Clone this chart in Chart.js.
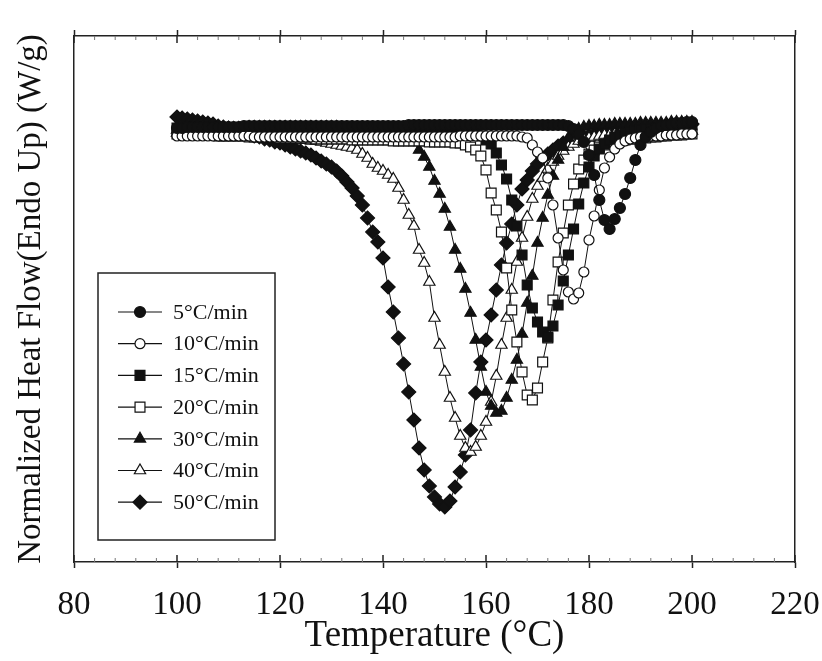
<!DOCTYPE html>
<html>
<head>
<meta charset="utf-8">
<title>DSC heating rates</title>
<script src="https://cdn.jsdelivr.net/npm/chart.js"></script>
<style>
  html, body { margin: 0; padding: 0; background: #fff; }
  #wrap { width: 822px; height: 661px; position: relative; }
</style>
</head>
<body>
<div id="wrap"><canvas id="dscChart"></canvas></div>
<script>
// temperature grid (°C), one reading per degree
const temps = [
  100, 101, 102, 103, 104, 105, 106, 107, 108, 109,
  110, 111, 112, 113, 114, 115, 116, 117, 118, 119,
  120, 121, 122, 123, 124, 125, 126, 127, 128, 129,
  130, 131, 132, 133, 134, 135, 136, 137, 138, 139,
  140, 141, 142, 143, 144, 145, 146, 147, 148, 149,
  150, 151, 152, 153, 154, 155, 156, 157, 158, 159,
  160, 161, 162, 163, 164, 165, 166, 167, 168, 169,
  170, 171, 172, 173, 174, 175, 176, 177, 178, 179,
  180, 181, 182, 183, 184, 185, 186, 187, 188, 189,
  190, 191, 192, 193, 194, 195, 196, 197, 198, 199,
  200
];

// normalized heat flow (W/g)
const rate5 = [
  0.00, 0.00, 0.01, 0.01, 0.01, 0.01, 0.01, 0.01, 0.01, 0.01,
  0.01, 0.01, 0.01, 0.02, 0.02, 0.02, 0.02, 0.02, 0.02, 0.02,
  0.02, 0.02, 0.02, 0.02, 0.02, 0.02, 0.02, 0.02, 0.02, 0.02,
  0.02, 0.02, 0.02, 0.02, 0.02, 0.02, 0.02, 0.02, 0.02, 0.02,
  0.02, 0.02, 0.02, 0.02, 0.02, 0.03, 0.03, 0.03, 0.03, 0.03,
  0.03, 0.03, 0.03, 0.03, 0.03, 0.03, 0.03, 0.03, 0.03, 0.03,
  0.03, 0.03, 0.03, 0.03, 0.03, 0.03, 0.03, 0.03, 0.03, 0.03,
  0.03, 0.03, 0.03, 0.03, 0.03, 0.03, 0.02, -0.01, -0.06, -0.14,
  -0.27, -0.47, -0.72, -0.92, -1.01, -0.91, -0.80, -0.66, -0.50, -0.32,
  -0.17, -0.09, -0.04, 0.00, 0.02, 0.03, 0.04, 0.05, 0.05, 0.06,
  0.06
];
const rate10 = [
  -0.08, -0.08, -0.08, -0.08, -0.08, -0.08, -0.08, -0.08, -0.08, -0.08,
  -0.08, -0.08, -0.08, -0.08, -0.08, -0.09, -0.09, -0.09, -0.09, -0.09,
  -0.09, -0.09, -0.09, -0.09, -0.09, -0.09, -0.09, -0.09, -0.09, -0.09,
  -0.09, -0.09, -0.09, -0.09, -0.09, -0.09, -0.09, -0.09, -0.09, -0.09,
  -0.09, -0.09, -0.09, -0.09, -0.09, -0.09, -0.09, -0.09, -0.09, -0.09,
  -0.09, -0.09, -0.09, -0.09, -0.09, -0.08, -0.08, -0.08, -0.08, -0.08,
  -0.08, -0.08, -0.08, -0.08, -0.08, -0.08, -0.08, -0.09, -0.10, -0.17,
  -0.24, -0.30, -0.50, -0.77, -1.10, -1.42, -1.64, -1.71, -1.65, -1.44,
  -1.12, -0.88, -0.62, -0.40, -0.29, -0.21, -0.16, -0.13, -0.11, -0.10,
  -0.09, -0.09, -0.08, -0.08, -0.08, -0.07, -0.07, -0.07, -0.06, -0.06,
  -0.06
];
const rate15 = [
  0.00, 0.00, 0.00, -0.01, -0.01, -0.01, -0.01, -0.01, -0.01, -0.01,
  -0.01, -0.01, -0.01, -0.01, -0.01, -0.01, -0.01, -0.01, -0.01, -0.01,
  -0.01, -0.01, -0.01, -0.01, -0.02, -0.02, -0.02, -0.02, -0.02, -0.02,
  -0.02, -0.02, -0.02, -0.02, -0.02, -0.02, -0.02, -0.02, -0.02, -0.02,
  -0.02, -0.02, -0.02, -0.02, -0.03, -0.03, -0.03, -0.03, -0.03, -0.03,
  -0.03, -0.03, -0.03, -0.03, -0.03, -0.04, -0.04, -0.04, -0.05, -0.08,
  -0.12, -0.16, -0.25, -0.37, -0.51, -0.72, -0.98, -1.27, -1.57, -1.80,
  -1.94, -2.04, -2.09, -1.98, -1.77, -1.53, -1.27, -1.01, -0.76, -0.55,
  -0.39, -0.28, -0.21, -0.16, -0.12, -0.09, -0.07, -0.05, -0.04, -0.03,
  -0.02, -0.01, -0.01, 0.00, 0.00, 0.01, 0.01, 0.02, 0.02, 0.03,
  0.03
];
const rate20 = [
  -0.06, -0.06, -0.06, -0.07, -0.07, -0.07, -0.07, -0.07, -0.08, -0.08,
  -0.08, -0.08, -0.08, -0.08, -0.09, -0.09, -0.09, -0.09, -0.09, -0.09,
  -0.10, -0.10, -0.10, -0.10, -0.10, -0.10, -0.10, -0.11, -0.11, -0.11,
  -0.11, -0.11, -0.11, -0.11, -0.12, -0.12, -0.12, -0.12, -0.12, -0.12,
  -0.12, -0.12, -0.13, -0.13, -0.13, -0.13, -0.13, -0.13, -0.13, -0.14,
  -0.14, -0.14, -0.14, -0.14, -0.15, -0.15, -0.17, -0.19, -0.22, -0.28,
  -0.42, -0.65, -0.82, -1.04, -1.40, -1.82, -2.14, -2.44, -2.67, -2.72,
  -2.60, -2.34, -2.10, -1.72, -1.34, -1.05, -0.77, -0.56, -0.41, -0.32,
  -0.26, -0.22, -0.19, -0.17, -0.15, -0.14, -0.13, -0.12, -0.11, -0.11,
  -0.10, -0.10, -0.09, -0.09, -0.08, -0.08, -0.07, -0.07, -0.07, -0.06,
  -0.06
];
const rate30 = [
  -0.02, -0.02, -0.02, -0.02, -0.01, -0.01, -0.01, -0.01, -0.01, -0.01,
  0.00, 0.00, 0.00, 0.00, 0.01, 0.01, 0.01, 0.01, 0.01, 0.01,
  0.01, 0.01, 0.01, 0.01, 0.01, 0.01, 0.01, 0.01, 0.01, 0.01,
  0.01, 0.01, 0.00, 0.00, 0.00, 0.00, -0.01, -0.01, -0.01, -0.02,
  -0.02, -0.03, -0.04, -0.05, -0.07, -0.09, -0.13, -0.22, -0.29, -0.39,
  -0.53, -0.66, -0.81, -0.99, -1.22, -1.41, -1.61, -1.85, -2.12, -2.39,
  -2.64, -2.78, -2.85, -2.83, -2.70, -2.52, -2.32, -2.06, -1.75, -1.48,
  -1.15, -0.90, -0.67, -0.48, -0.32, -0.19, -0.10, -0.04, -0.01, 0.01,
  0.02, 0.02, 0.03, 0.03, 0.03, 0.04, 0.04, 0.04, 0.04, 0.04,
  0.05, 0.05, 0.05, 0.05, 0.05, 0.05, 0.06, 0.06, 0.06, 0.06,
  0.06
];
const rate40 = [
  -0.05, -0.05, -0.05, -0.06, -0.06, -0.06, -0.06, -0.06, -0.07, -0.07,
  -0.07, -0.07, -0.08, -0.08, -0.08, -0.08, -0.09, -0.09, -0.09, -0.10,
  -0.10, -0.10, -0.11, -0.11, -0.12, -0.12, -0.13, -0.13, -0.14, -0.15,
  -0.16, -0.17, -0.18, -0.19, -0.20, -0.22, -0.26, -0.30, -0.36, -0.40,
  -0.43, -0.47, -0.51, -0.60, -0.72, -0.87, -0.98, -1.22, -1.35, -1.54,
  -1.90, -2.17, -2.44, -2.70, -2.90, -3.08, -3.20, -3.24, -3.19, -3.08,
  -2.94, -2.74, -2.48, -2.17, -1.90, -1.62, -1.34, -1.10, -0.89, -0.71,
  -0.58, -0.50, -0.41, -0.34, -0.28, -0.23, -0.19, -0.16, -0.13, -0.11,
  -0.10, -0.09, -0.08, -0.07, -0.07, -0.06, -0.06, -0.06, -0.05, -0.05,
  -0.05, -0.05, -0.04, -0.04, -0.04, -0.04, -0.03, -0.03, -0.03, -0.03,
  -0.03
];
const rate50 = [
  0.11, 0.10, 0.09, 0.08, 0.07, 0.06, 0.05, 0.04, 0.02, 0.01,
  0.00, -0.02, -0.03, -0.05, -0.06, -0.08, -0.09, -0.11, -0.12, -0.14,
  -0.15, -0.17, -0.19, -0.21, -0.23, -0.25, -0.27, -0.30, -0.33, -0.36,
  -0.39, -0.43, -0.48, -0.54, -0.60, -0.68, -0.77, -0.90, -1.04, -1.14,
  -1.30, -1.59, -1.84, -2.10, -2.36, -2.64, -2.92, -3.20, -3.42, -3.58,
  -3.69, -3.76, -3.79, -3.73, -3.59, -3.44, -3.27, -3.02, -2.65, -2.34,
  -2.12, -1.87, -1.62, -1.37, -1.15, -0.96, -0.77, -0.61, -0.52, -0.43,
  -0.36, -0.30, -0.26, -0.22, -0.18, -0.15, -0.13, -0.11, -0.10, -0.09,
  -0.08, -0.07, -0.06, -0.05, -0.04, -0.03, -0.03, -0.02, -0.02, -0.01,
  -0.01, 0.00, 0.00, 0.01, 0.01, 0.02, 0.02, 0.03, 0.03, 0.04,
  0.04
];

const seriesLabels = ['5°C/min', '10°C/min', '15°C/min', '20°C/min', '30°C/min', '40°C/min', '50°C/min'];
const seriesValues = [rate5, rate10, rate15, rate20, rate30, rate40, rate50];
const xTickLabels = [80, 100, 120, 140, 160, 180, 200, 220];

// marker look per series: shape, filled?, radius
const markers = [
  ['circle', true, 5.5],
  ['circle', false, 5],
  ['rect', true, 7],
  ['rect', false, 7],
  ['triangle', true, 6.5],
  ['triangle', false, 6.5],
  ['rectRot', true, 7]
];

const INK = '#111';
const FONT = "'Liberation Serif', 'Times New Roman', serif";
const isMajor = c => xTickLabels.includes(c.tick && c.tick.value);

const datasets = seriesValues.map((vals, k) => {
  const [shape, filled, r] = markers[k];
  return {
    label: seriesLabels[k],
    data: temps.map((t, i) => ({ x: t, y: vals[i] })),
    borderColor: INK,
    borderWidth: 1,
    pointStyle: shape,
    pointRadius: r,
    pointBackgroundColor: filled ? INK : '#fff',
    pointBorderColor: INK,
    pointBorderWidth: 1.2,
    tension: 0,
    fill: false
  };
});

// inward tick marks on the top and bottom axes (majors cross the frame)
const innerTicks = {
  id: 'innerTicks',
  afterDraw(chart) {
    const ctx = chart.ctx;
    ctx.save();
    ['x', 'xTop'].forEach(id => {
      const sc = chart.scales[id];
      const edge = id === 'x' ? chart.chartArea.bottom : chart.chartArea.top;
      const dir = id === 'x' ? -1 : 1;
      sc.ticks.forEach(t => {
        const major = xTickLabels.includes(t.value);
        const px = sc.getPixelForValue(t.value);
        ctx.strokeStyle = major ? '#222' : '#777';
        ctx.lineWidth = major ? 1.5 : 1;
        ctx.beginPath();
        ctx.moveTo(px, edge);
        ctx.lineTo(px, edge + dir * (major ? 7 : 4));
        ctx.stroke();
      });
    });
    ctx.restore();
  }
};

// boxed legend with line+marker samples, drawn inside the plot
const boxLegend = {
  id: 'boxLegend',
  afterDatasetsDraw(chart) {
    const ctx = chart.ctx;
    const a = chart.chartArea;
    const left = a.left + 24, top = a.top + 237, w = 177, h = 267;
    ctx.save();
    ctx.fillStyle = '#fff';
    ctx.fillRect(left, top, w, h);
    ctx.strokeStyle = '#222';
    ctx.lineWidth = 1.5;
    ctx.strokeRect(left, top, w, h);
    ctx.font = '22px ' + FONT;
    ctx.textBaseline = 'middle';
    seriesLabels.forEach((lab, k) => {
      const [shape, filled, r] = markers[k];
      const y = top + 39 + k * 31.7;
      ctx.strokeStyle = INK;
      ctx.lineWidth = 1.2;
      ctx.beginPath();
      ctx.moveTo(left + 20, y);
      ctx.lineTo(left + 64, y);
      ctx.stroke();
      ctx.fillStyle = filled ? INK : '#fff';
      Chart.helpers.drawPoint(ctx, { pointStyle: shape, radius: r, rotation: 0, borderWidth: 1.2 }, left + 42, y);
      ctx.fillStyle = INK;
      ctx.fillText(lab, left + 75, y + 1);
    });
    ctx.restore();
  }
};

const ctx = document.getElementById('dscChart').getContext('2d');
new Chart(ctx, {
  type: 'line',
  data: { datasets: datasets },
  options: {
    responsive: true,
    maintainAspectRatio: false,
    animation: false,
    layout: { padding: 0 },
    plugins: {
      legend: { display: false },
      tooltip: { enabled: false }
    },
    scales: {
      x: {
        type: 'linear',
        position: 'bottom',
        min: 80,
        max: 220,
        ticks: {
          stepSize: 4,
          autoSkip: false,
          maxRotation: 0,
          padding: 18,
          color: INK,
          font: { family: FONT, size: 33 },
          callback: v => xTickLabels.includes(v) ? String(v) : ''
        },
        grid: {
          drawOnChartArea: false,
          tickLength: 6,
          tickColor: c => isMajor(c) ? '#222' : 'rgba(0,0,0,0)',
          tickWidth: 1.5
        },
        border: { color: '#222', width: 1.5 },
        title: {
          display: true,
          text: 'Temperature (°C)',
          color: INK,
          font: { family: FONT, size: 37 },
          padding: { top: 0, bottom: 3 }
        },
        afterFit: s => { s.height = 99; s.paddingLeft = 0; s.paddingRight = 0; }
      },
      xTop: {
        type: 'linear',
        position: 'top',
        min: 80,
        max: 220,
        ticks: { display: false, stepSize: 4, autoSkip: false },
        grid: {
          drawOnChartArea: false,
          tickLength: 6,
          tickColor: c => isMajor(c) ? '#222' : 'rgba(0,0,0,0)',
          tickWidth: 1.5
        },
        border: { color: '#222', width: 1.5 },
        afterFit: s => { s.height = 36; s.paddingLeft = 0; s.paddingRight = 0; }
      },
      y: {
        type: 'linear',
        position: 'left',
        min: -4.34,
        max: 0.92,
        ticks: { display: false },
        grid: { display: false, drawTicks: false },
        border: { color: '#222', width: 1.5 },
        title: {
          display: true,
          text: 'Normalized Heat Flow(Endo Up) (W/g)',
          color: INK,
          font: { family: FONT, size: 33 },
          padding: { top: 12, bottom: 0 }
        },
        afterFit: s => { s.width = 74; }
      },
      yRight: {
        type: 'linear',
        position: 'right',
        min: -4.34,
        max: 0.92,
        ticks: { display: false },
        grid: { display: false, drawTicks: false },
        border: { color: '#222', width: 1.5 },
        afterFit: s => { s.width = 27; }
      }
    }
  },
  plugins: [innerTicks, boxLegend]
});
</script>
</body>
</html>
